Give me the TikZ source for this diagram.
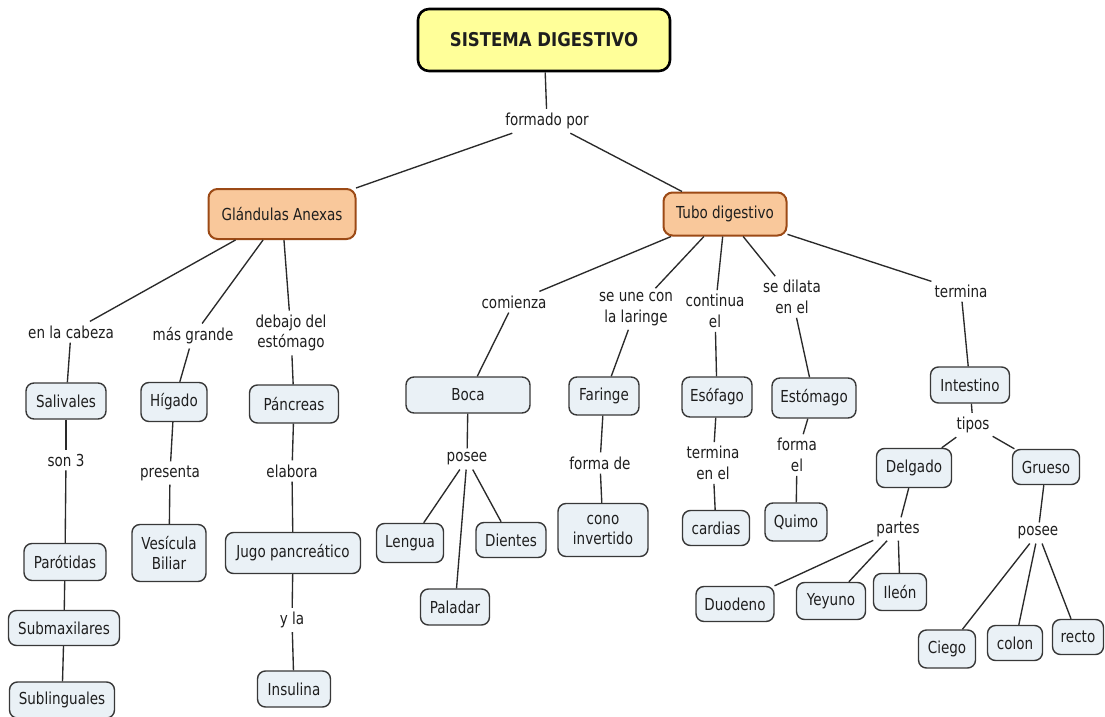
\documentclass[tikz,border=0pt]{standalone}
\usepackage{fontspec}
\setmainfont{DejaVu Sans}[FakeStretch=0.82]
\newfontfamily\titlefont{DejaVu Sans}[FakeStretch=0.87]
\definecolor{boxfill}{HTML}{EAF1F6}
\definecolor{boxline}{HTML}{383838}
\definecolor{titlefill}{HTML}{FFFF99}
\definecolor{orangefill}{HTML}{F9C89B}
\definecolor{orangeline}{HTML}{9C4A16}
\definecolor{ink}{HTML}{1E1E1E}
\definecolor{linecol}{HTML}{2A2A2A}
\begin{document}
\begin{tikzpicture}[x=1pt,y=-1pt,
  txt/.style={text=ink, align=center, font=\fontsize{16.5}{20.5}\selectfont},
  box/.style={txt, draw=boxline, fill=boxfill, rounded corners=8pt,
    line width=1.4pt, inner sep=0pt},
  sz/.style 2 args={minimum width=#1pt, minimum height=#2pt},
  titlebox/.style={draw=black, fill=titlefill, rounded corners=11pt,
    line width=2.6pt, inner sep=0pt, text=ink,
    font=\titlefont\fontsize{19}{22}\selectfont\bfseries},
  mainbox/.style={txt, draw=orangeline, fill=orangefill, rounded corners=9pt,
    line width=2pt, inner sep=0pt},
  lbl/.style={txt, inner xsep=3pt, inner ysep=4pt},
  link/.style={draw=linecol, line width=1.35pt}]

\path[fill=white] (0,0) rectangle (1105,717);
\useasboundingbox (0,0) rectangle (1105,717);

% root and the two main branches
\node[titlebox, sz={252}{62}] (T) at (544,40) {SISTEMA DIGESTIVO};
\node[lbl] (F0) at (547,121) {formado por};
\node[mainbox, sz={147}{50}] (GA) at (282,214) {Glándulas Anexas};
\node[mainbox, sz={123}{43}] (TD) at (725,214) {Tubo digestivo};

% annexed glands
\node[lbl] (L1) at (71,332) {en la cabeza};
\node[lbl] (L2) at (193,336) {más grande};
\node[lbl] (L3) at (291,333) {debajo del\\estómago};
\node[box, sz={80}{36}] (Sal) at (66,401) {Salivales};
\node[box, sz={66}{39}] (Hig) at (174,402) {Hígado};
\node[box, sz={89}{38}] (Pan) at (294,404) {Páncreas};
\node[lbl] (L4) at (66,460) {son 3};
\node[box, sz={82}{37}] (Par) at (65,562) {Parótidas};
\node[box, sz={111}{35}] (Sub) at (64,628) {Submaxilares};
\node[box, sz={105}{36}] (Subl) at (62,700) {Sublinguales};
\node[lbl] (L5) at (170,473) {presenta};
\node[box, sz={74}{57}] (Ves) at (169,553) {Vesícula\\Biliar};
\node[lbl] (L6) at (292,471) {elabora};
\node[box, sz={135}{41}] (Jugo) at (293,553) {Jugo pancreático};
\node[lbl] (L7) at (292,620) {y la};
\node[box, sz={73}{36}] (Ins) at (294,689) {Insulina};

% digestive tube
\node[lbl] (M1) at (514,302) {comienza};
\node[lbl] (M2) at (636,309) {se une con\\la laringe};
\node[lbl] (M3) at (715,311) {continua\\el};
\node[lbl] (M4) at (792,297) {se dilata\\en el};
\node[lbl] (M5) at (961,291) {termina};
\node[box, sz={124}{36}] (Boca) at (468,395) {Boca};
\node[box, sz={70}{38}] (Far) at (604,396) {Faringe};
\node[box, sz={70}{40}] (Eso) at (717,397) {Esófago};
\node[box, sz={84}{40}] (Est) at (814,398) {Estómago};
\node[box, sz={79}{36}] (Int) at (970,385) {Intestino};

\node[lbl] (M6) at (467,459) {posee};
\node[box, sz={67}{39}] (Len) at (410,543) {Lengua};
\node[box, sz={70}{35}] (Dien) at (511,540) {Dientes};
\node[box, sz={69}{36}] (Pal) at (455,607) {Paladar};
\node[lbl] (M7) at (600,463) {forma de};
\node[box, sz={90}{53}] (Cono) at (603,530) {cono\\invertido};
\node[lbl] (M8) at (713,463) {termina\\en el};
\node[box, sz={67}{35}] (Card) at (716,528) {cardias};
\node[lbl] (M9) at (797,455) {forma\\el};
\node[box, sz={62}{38}] (Quimo) at (796,522) {Quimo};

% intestine
\node[lbl] (M10) at (973,425) {tipos};
\node[box, sz={75}{39}] (Del) at (914,468) {Delgado};
\node[box, sz={67}{35}] (Gru) at (1046,467) {Grueso};
\node[lbl] (M11) at (898,529) {partes};
\node[box, sz={78}{35}] (Duo) at (735,604) {Duodeno};
\node[box, sz={69}{37}] (Yey) at (831,601) {Yeyuno};
\node[box, sz={53}{37}] (Ile) at (900,592) {Ileón};
\node[lbl] (M12) at (1038,533) {posee};
\node[box, sz={57}{38}] (Cie) at (947,649) {Ciego};
\node[box, sz={55}{35}] (Col) at (1015,643) {colon};
\node[box, sz={51}{35}] (Rec) at (1078,637) {recto};

% connectors
\draw[link] (T) -- (F0);
\draw[link] (F0) -- (GA);
\draw[link] (F0) -- (TD);

\draw[link] (GA) -- (L1);
\draw[link] (GA) -- (L2);
\draw[link] (GA) -- (L3);
\draw[link] (L1) -- (Sal);
\draw[link] (L2) -- (Hig);
\draw[link] (L3) -- (Pan);
\draw[link] (Sal) -- (L4);
\draw[link] (L4) -- (Par);
\draw[link] (Par) -- (Sub);
\draw[link] (Sub) -- (Subl);
\draw[link] (Hig) -- (L5);
\draw[link] (L5) -- (Ves);
\draw[link] (Pan) -- (L6);
\draw[link] (L6) -- (Jugo);
\draw[link] (Jugo) -- (L7);
\draw[link] (L7) -- (Ins);

\draw[link] (TD) -- (M1);
\draw[link] (TD) -- (M2);
\draw[link] (TD) -- (M3);
\draw[link] (TD) -- (M4);
\draw[link] (TD) -- (M5);
\draw[link] (M1) -- (Boca);
\draw[link] (M2) -- (Far);
\draw[link] (M3) -- (Eso);
\draw[link] (M4) -- (Est);
\draw[link] (M5) -- (Int);

\draw[link] (Boca) -- (M6);
\draw[link] (M6) -- (Len);
\draw[link] (M6) -- (Pal);
\draw[link] (M6) -- (Dien);
\draw[link] (Far) -- (M7);
\draw[link] (M7) -- (Cono);
\draw[link] (Eso) -- (M8);
\draw[link] (M8) -- (Card);
\draw[link] (Est) -- (M9);
\draw[link] (M9) -- (Quimo);

\draw[link] (Int) -- (M10);
\draw[link] (M10) -- (Del);
\draw[link] (M10) -- (Gru);
\draw[link] (Del) -- (M11);
\draw[link] (M11) -- (Duo);
\draw[link] (M11) -- (Yey);
\draw[link] (M11) -- (Ile);
\draw[link] (Gru) -- (M12);
\draw[link] (M12) -- (Cie);
\draw[link] (M12) -- (Col);
\draw[link] (M12) -- (Rec);
\end{tikzpicture}
\end{document}
